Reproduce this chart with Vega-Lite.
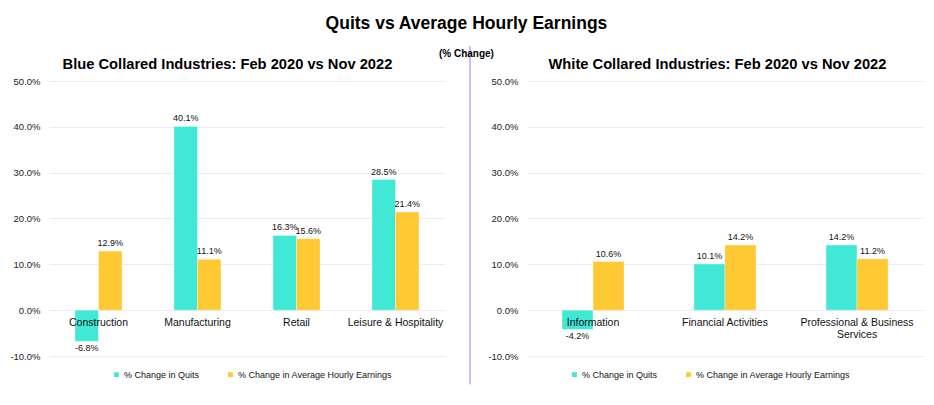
{
  "$schema": "https://vega.github.io/schema/vega-lite/v6.json",
  "background": "white",
  "padding": {"left": 9, "top": 15, "right": 8, "bottom": 5},
  "title": {
    "text": "Quits vs Average Hourly Earnings",
    "subtitle": "(% Change)",
    "font": "Liberation Sans",
    "fontSize": 17.5,
    "fontWeight": "bold",
    "color": "#000000",
    "subtitleFont": "Liberation Sans",
    "subtitleFontSize": 10,
    "subtitleFontWeight": "bold",
    "subtitleColor": "#000000",
    "subtitlePadding": 16,
    "anchor": "middle",
    "offset": -13
  },
  "datasets": {
    "blue": [
      {"industry": "Construction", "series": "% Change in Quits", "value": -0.068},
      {"industry": "Construction", "series": "% Change in Average Hourly Earnings", "value": 0.129},
      {"industry": "Manufacturing", "series": "% Change in Quits", "value": 0.401},
      {"industry": "Manufacturing", "series": "% Change in Average Hourly Earnings", "value": 0.111},
      {"industry": "Retail", "series": "% Change in Quits", "value": 0.163},
      {"industry": "Retail", "series": "% Change in Average Hourly Earnings", "value": 0.156},
      {"industry": "Leisure & Hospitality", "series": "% Change in Quits", "value": 0.285},
      {"industry": "Leisure & Hospitality", "series": "% Change in Average Hourly Earnings", "value": 0.214}
    ],
    "white": [
      {"industry": "Information", "series": "% Change in Quits", "value": -0.042},
      {"industry": "Information", "series": "% Change in Average Hourly Earnings", "value": 0.106},
      {"industry": "Financial Activities", "series": "% Change in Quits", "value": 0.101},
      {"industry": "Financial Activities", "series": "% Change in Average Hourly Earnings", "value": 0.142},
      {"industry": "Professional & Business Services", "series": "% Change in Quits", "value": 0.142},
      {"industry": "Professional & Business Services", "series": "% Change in Average Hourly Earnings", "value": 0.112}
    ],
    "divider": [{"top": 0.576, "bottom": -0.162}]
  },
  "config": {
    "view": {"stroke": null},
    "font": "Liberation Sans",
    "locale": {"number": {"decimal": ".", "thousands": ",", "grouping": [3], "currency": ["$", ""], "minus": "-"}},
    "axis": {"labelFont": "Liberation Sans", "labelColor": "#222222"},
    "legend": {"labelFont": "Liberation Sans"}
  },
  "spacing": 0,
  "resolve": {"scale": {"color": "independent", "x": "independent", "xOffset": "independent", "y": "independent"}, "legend": {"color": "independent"}},
  "hconcat": [
    {
      "width": 396,
      "height": 275,
      "data": {"name": "blue"},
      "title": {"text": "Blue Collared Industries: Feb 2020 vs Nov 2022", "fontSize": 14.7, "fontWeight": "bold", "color": "#000000", "anchor": "middle", "frame": "bounds", "offset": 4},
      "encoding": {
        "x": {
          "field": "industry", "type": "nominal", "sort": null, "title": null,
          "scale": {"paddingInner": 0.525, "paddingOuter": 0.2625},
          "axis": {"offset": -46, "domain": false, "ticks": false, "labelAngle": 0, "labelFontSize": 10.5, "labelColor": "#111111", "labelPadding": 7, "zindex": 1}
        },
        "y": {
          "field": "value", "type": "quantitative", "title": null,
          "scale": {"domain": [-0.1, 0.5], "nice": false},
          "axis": {"values": [-0.1, 0, 0.1, 0.2, 0.3, 0.4, 0.5], "format": ".1%", "domain": false, "ticks": false, "labelFontSize": 9.5, "labelPadding": 9, "gridColor": "#F1E6FB", "gridWidth": 1}
        },
        "xOffset": {"field": "series", "type": "nominal", "sort": ["% Change in Quits", "% Change in Average Hourly Earnings"]}
      },
      "layer": [
        {
          "mark": {"type": "bar", "stroke": "#ffffff", "strokeWidth": 0.6, "strokeOpacity": 0.6},
          "encoding": {
            "color": {
              "field": "series", "type": "nominal", "title": null,
              "sort": ["% Change in Quits", "% Change in Average Hourly Earnings"],
              "scale": {"domain": ["% Change in Quits", "% Change in Average Hourly Earnings"], "range": ["#41E8D6", "#FFC933"]},
              "legend": {"orient": "none", "legendX": 63, "legendY": 289, "direction": "horizontal", "symbolType": "square", "symbolSize": 40, "labelFontSize": 9, "columnPadding": 24, "labelOffset": 3, "labelColor": "#111111"}
            }
          }
        },
        {
          "transform": [{"filter": "datum.value >= 0"}],
          "mark": {"type": "text", "baseline": "bottom", "dy": -3, "fontSize": 9, "color": "#111111"},
          "encoding": {"text": {"field": "value", "type": "quantitative", "format": ".1%"}}
        },
        {
          "transform": [{"filter": "datum.value < 0"}],
          "mark": {"type": "text", "baseline": "top", "dy": 3, "fontSize": 9, "color": "#111111"},
          "encoding": {"text": {"field": "value", "type": "quantitative", "format": ".1%"}}
        }
      ]
    },
    {
      "width": 42,
      "height": 275,
      "data": {"name": "divider"},
      "mark": {"type": "rule", "color": "#AD74F0", "strokeWidth": 1},
      "encoding": {
        "x": {"datum": 25, "type": "quantitative", "scale": {"domain": [0, 42]}, "axis": null},
        "y": {"field": "top", "type": "quantitative", "scale": {"domain": [-0.1, 0.5], "nice": false}, "axis": null},
        "y2": {"field": "bottom"}
      }
    },
    {
      "width": 396,
      "height": 275,
      "data": {"name": "white"},
      "title": {"text": "White Collared Industries: Feb 2020 vs Nov 2022", "fontSize": 14.7, "fontWeight": "bold", "color": "#000000", "anchor": "middle", "frame": "bounds", "offset": 4, "dx": 12},
      "encoding": {
        "x": {
          "field": "industry", "type": "nominal", "sort": null, "title": null,
          "scale": {"paddingInner": 0.53, "paddingOuter": 0.265},
          "axis": {"offset": -46, "domain": false, "ticks": false, "labelAngle": 0, "labelFontSize": 10.5, "labelColor": "#111111", "labelPadding": 7, "zindex": 1, "labelLimit": 300,
            "labelExpr": "datum.label == 'Professional & Business Services' ? ['Professional & Business', 'Services'] : datum.label"}
        },
        "y": {
          "field": "value", "type": "quantitative", "title": null,
          "scale": {"domain": [-0.1, 0.5], "nice": false},
          "axis": {"values": [-0.1, 0, 0.1, 0.2, 0.3, 0.4, 0.5], "format": ".1%", "domain": false, "ticks": false, "labelFontSize": 9.5, "labelPadding": 9, "gridColor": "#F1E6FB", "gridWidth": 1}
        },
        "xOffset": {"field": "series", "type": "nominal", "sort": ["% Change in Quits", "% Change in Average Hourly Earnings"]}
      },
      "layer": [
        {
          "mark": {"type": "bar", "stroke": "#ffffff", "strokeWidth": 0.6, "strokeOpacity": 0.6},
          "encoding": {
            "color": {
              "field": "series", "type": "nominal", "title": null,
              "sort": ["% Change in Quits", "% Change in Average Hourly Earnings"],
              "scale": {"domain": ["% Change in Quits", "% Change in Average Hourly Earnings"], "range": ["#41E8D6", "#FFC933"]},
              "legend": {"orient": "none", "legendX": 43, "legendY": 289, "direction": "horizontal", "symbolType": "square", "symbolSize": 40, "labelFontSize": 9, "columnPadding": 24, "labelOffset": 3, "labelColor": "#111111"}
            }
          }
        },
        {
          "transform": [{"filter": "datum.value >= 0"}],
          "mark": {"type": "text", "baseline": "bottom", "dy": -3, "fontSize": 9, "color": "#111111"},
          "encoding": {"text": {"field": "value", "type": "quantitative", "format": ".1%"}}
        },
        {
          "transform": [{"filter": "datum.value < 0"}],
          "mark": {"type": "text", "baseline": "top", "dy": 3, "fontSize": 9, "color": "#111111"},
          "encoding": {"text": {"field": "value", "type": "quantitative", "format": ".1%"}}
        }
      ]
    }
  ]
}
